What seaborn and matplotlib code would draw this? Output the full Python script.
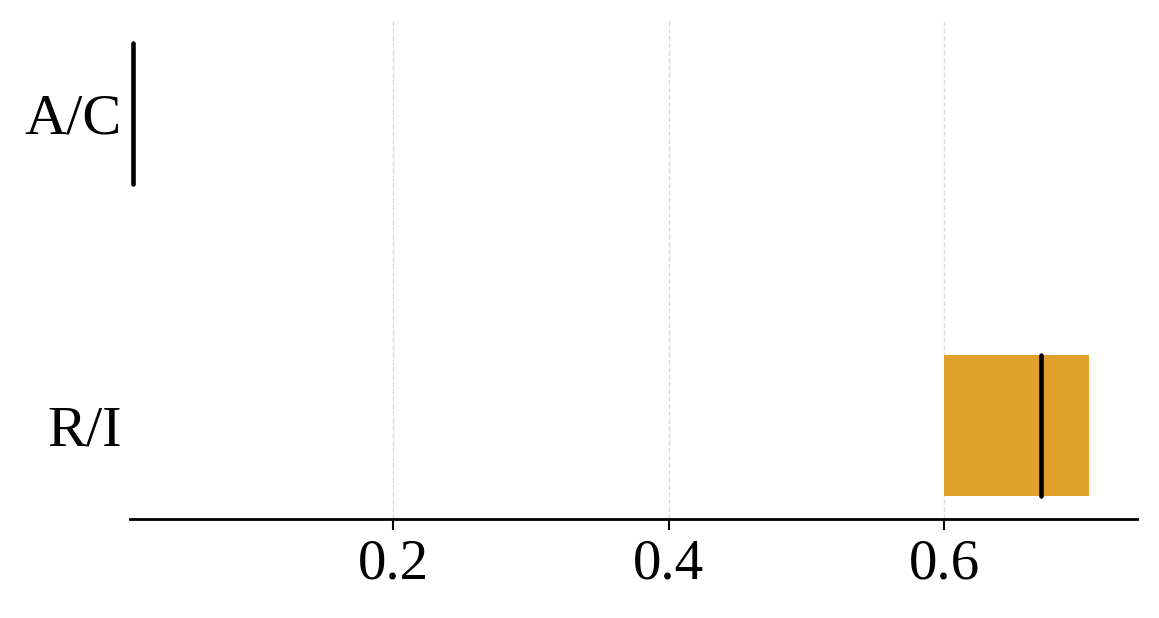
import pandas as pd
import matplotlib
matplotlib.use("Agg")
import matplotlib.pyplot as plt
import seaborn as sns

categories = ["A/C", "R/I"]
ac_values = [0.011, 0.011, 0.011, 0.011, 0.011]
ri_values = [0.600, 0.600, 0.670, 0.705, 0.705]
colors = ["#4C72B0", "#E1A12C"]
xticks = [0.2, 0.4, 0.6]

df = pd.DataFrame({
    "group": [categories[0]] * len(ac_values) + [categories[1]] * len(ri_values),
    "value": ac_values + ri_values,
})

sns.set_style("white")
plt.rcParams["font.family"] = ["Liberation Serif", "DejaVu Serif"]

fig, ax = plt.subplots(figsize=(11.59, 6.18), dpi=100)
sns.boxplot(data=df, x="value", y="group", hue="group", order=categories,
            palette=colors, legend=False, width=0.45, ax=ax,
            showcaps=False, showfliers=False, saturation=1,
            boxprops=dict(linewidth=0),
            whiskerprops=dict(linewidth=0),
            medianprops=dict(color="black", linewidth=3.3,
                             solid_capstyle="round"))

ax.set_xlim(0.009, 0.74)
ax.set_ylim(1.3, -0.3)
ax.set_xticks(xticks)
ax.set_xticklabels([f"{t:.1f}" for t in xticks])
ax.xaxis.grid(True, linestyle="--", color="#dddddd", linewidth=1)
ax.set_axisbelow(True)
ax.set_xlabel("")
ax.set_ylabel("")
for side in ["top", "right", "left"]:
    ax.spines[side].set_visible(False)
ax.spines["bottom"].set_linewidth(2)
ax.spines["bottom"].set_color("black")
ax.tick_params(axis="x", labelsize=41, length=8, width=1.5, bottom=True,
               pad=6, colors="black")
ax.tick_params(axis="y", labelsize=42, length=0, pad=6, colors="black")

fig.subplots_adjust(left=0.112, right=0.981, top=0.968, bottom=0.16)
fig.savefig("out.png", dpi=100)
